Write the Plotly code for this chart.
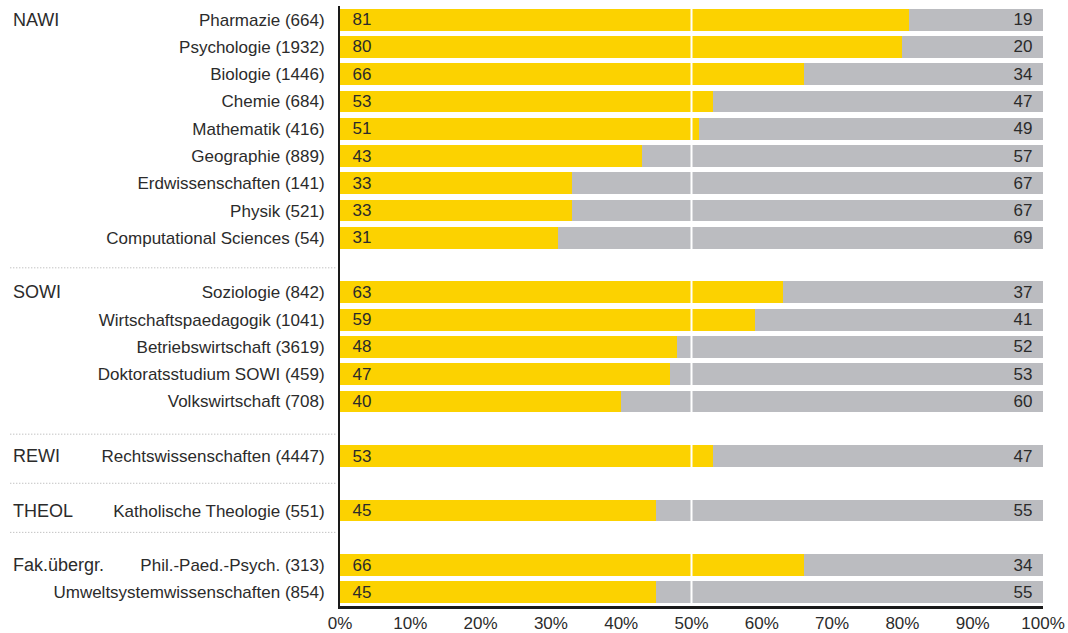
import plotly.graph_objects as go

# rows top to bottom, blank strings are spacer rows between faculties
subjects = [
    "Pharmazie (664)", "Psychologie (1932)", "Biologie (1446)", "Chemie (684)",
    "Mathematik (416)", "Geographie (889)", "Erdwissenschaften (141)", "Physik (521)",
    "Computational Sciences (54)", " ",
    "Soziologie (842)", "Wirtschaftspaedagogik (1041)", "Betriebswirtschaft (3619)",
    "Doktoratsstudium SOWI (459)", "Volkswirtschaft (708)", "  ",
    "Rechtswissenschaften (4447)", "   ",
    "Katholische Theologie (551)", "    ",
    "Phil.-Paed.-Psych. (313)", "Umweltsystemwissenschaften (854)",
]
yes_share = [81, 80, 66, 53, 51, 43, 33, 33, 31, None,
             63, 59, 48, 47, 40, None,
             53, None,
             45, None,
             66, 45]
no_share = [19, 20, 34, 47, 49, 57, 67, 67, 69, None,
            37, 41, 52, 53, 60, None,
            47, None,
            55, None,
            34, 55]

faculties = ["NAWI", "SOWI", "REWI", "THEOL", "Fak.übergr."]
faculty_rows = ["Pharmazie (664)", "Soziologie (842)", "Rechtswissenschaften (4447)",
                "Katholische Theologie (551)", "Phil.-Paed.-Psych. (313)"]

x_ticks = list(range(0, 101, 10))
x_tick_labels = [f"{t}%" for t in x_ticks]

FONT = "Liberation Sans"
TXT = "#2b2b2b"
YELLOW = "#FCD200"
GREY = "#BBBCC0"
NB = "\u00a0"

fig = go.Figure()
fig.add_trace(go.Bar(
    y=subjects, x=yes_share, orientation="h", marker_color=YELLOW,
    marker_line_width=0,
    text=[("" if v is None else str(v)) for v in yes_share],
    texttemplate=NB * 2 + "%{text}", textposition="inside", insidetextanchor="start",
    constraintext="none", textfont=dict(family=FONT, size=17, color=TXT),
    hoverinfo="skip",
))
fig.add_trace(go.Bar(
    y=subjects, x=no_share, orientation="h", marker_color=GREY,
    marker_line_width=0,
    text=[("" if v is None else str(v)) for v in no_share],
    texttemplate="%{text}" + NB + "\u2006", textposition="inside", insidetextanchor="end",
    constraintext="none", textfont=dict(family=FONT, size=17, color=TXT),
    hoverinfo="skip",
))

# white line at 50 % drawn over the bars
fig.add_shape(type="line", xref="x", yref="paper", x0=50, x1=50, y0=0, y1=1,
              line=dict(color="white", width=2), layer="above")

# dotted separators between faculties
for yy in [9.1, 15.2, 17.0, 18.8]:
    fig.add_shape(type="line", xref="paper", yref="y", x0=-0.469, x1=-0.004,
                  y0=yy, y1=yy, line=dict(color="#AAAAAA", width=1, dash="1px,2px"))

for fac, row in zip(faculties, faculty_rows):
    fig.add_annotation(text=fac, xref="paper", yref="y", x=-0.468, y=row,
                       xanchor="left", yanchor="middle", showarrow=False,
                       font=dict(family=FONT, size=18, color=TXT))

fig.update_layout(
    barmode="stack", bargap=0.2, showlegend=False,
    width=1068, height=633,
    margin=dict(l=340, r=25, t=6, b=27),
    plot_bgcolor="white", paper_bgcolor="white",
    font=dict(family=FONT, size=17, color=TXT),
    xaxis=dict(range=[0, 100], tickvals=x_ticks, ticktext=x_tick_labels,
               showgrid=False, zeroline=False, showline=True, linecolor="#1a1a1a",
               linewidth=2.5, ticks="", automargin=False,
               tickfont=dict(size=17, color=TXT)),
    yaxis=dict(categoryorder="array", categoryarray=subjects, autorange="reversed",
               showgrid=False, zeroline=False, showline=True, linecolor="#1a1a1a",
               linewidth=2, ticks="", ticklabelstandoff=10, automargin=False,
               tickfont=dict(size=17, color=TXT)),
)

fig.write_html("out.html", config={"displayModeBar": False},
               post_script="document.body.style.margin='0';")
